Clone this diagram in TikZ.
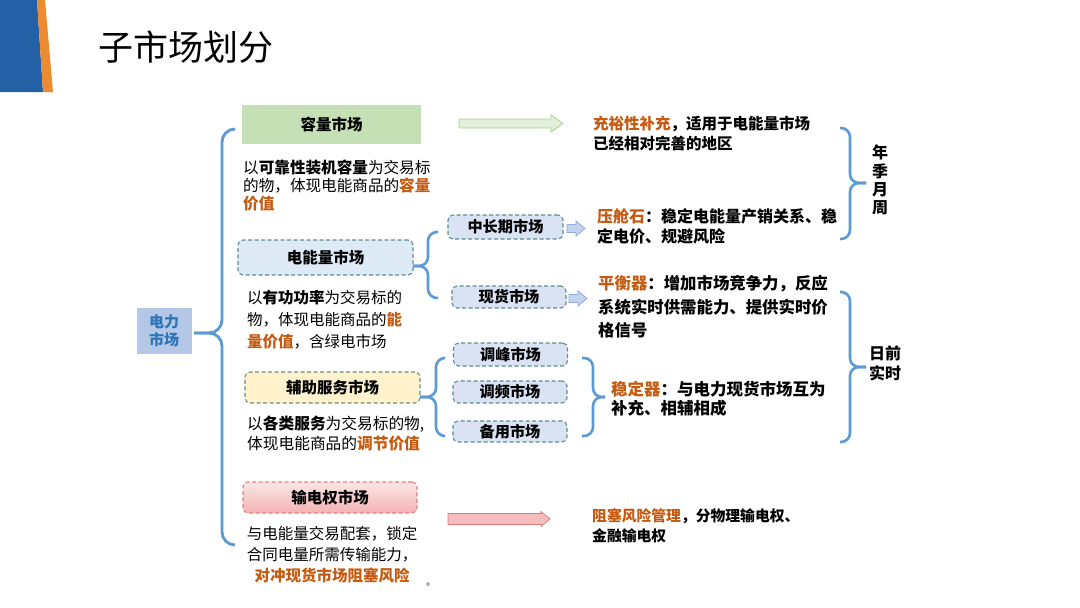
\documentclass[tikz,border=0pt]{standalone}
\usepackage{fontspec}
\setmainfont{Noto Sans CJK SC}
\usetikzlibrary{positioning}
\usepackage{xcolor}

\definecolor{deckblue}{HTML}{2360A5}
\definecolor{deckorange}{HTML}{ED8B30}
\definecolor{brc}{HTML}{5B9BD5}
\definecolor{orng}{HTML}{C55A11}
\definecolor{capfill}{HTML}{C5E0B4}
\definecolor{enfill}{HTML}{DEEBF7}
\definecolor{ancfill}{HTML}{FFF2CC}
\definecolor{subfill}{HTML}{DAE3F3}
\definecolor{dashcol}{HTML}{5E8C8C}
\definecolor{ancdash}{HTML}{6A9080}
\definecolor{ftrdash}{HTML}{E38080}
\definecolor{ftrtop}{HTML}{FCE6E6}
\definecolor{ftrbot}{HTML}{F4B3B3}
\definecolor{mktfill}{HTML}{B4C7E7}
\definecolor{mkttext}{HTML}{2E75B6}
\definecolor{gafill}{HTML}{E2F0D9}
\definecolor{gadraw}{HTML}{A9D18E}
\definecolor{pafill}{HTML}{F5BDBD}
\definecolor{padraw}{HTML}{D97B7B}
\definecolor{safill}{HTML}{C5D3EC}
\definecolor{sadraw}{HTML}{8FAADC}

\newcommand{\hlt}[1]{\textcolor{orng}{\textbf{#1}}}

\tikzset{
    market/.style={inner sep=0, minimum width=175pt, minimum height=33pt,
        font=\bfseries\fontsize{15.5}{18}\selectfont},
    dashbox/.style={draw=dashcol, dash pattern=on 4pt off 2.5pt, line width=1.1pt,
        rounded corners=5pt},
    submarket/.style={dashbox, fill=subfill, inner sep=0, minimum width=114pt,
        minimum height=22pt, font=\bfseries\fontsize{15.2}{18}\selectfont},
    desc/.style={inner sep=0, anchor=north west, align=left},
    note/.style={inner sep=0, anchor=north west, align=left},
    curly/.style={draw=brc, line width=2.6pt, rounded corners=9pt},
    smallarrow/.style={draw=sadraw, fill=safill, line width=0.8pt}
}

\begin{document}
\begin{tikzpicture}[x=1pt, y=-1pt]
        \useasboundingbox (0,0) rectangle (1080,608);

        % corner band
        \fill[deckblue] (0,0) -- (37,0) -- (43,92) -- (0,92) -- cycle;
        \fill[deckorange] (37,0) -- (45,0) -- (53,92) -- (43,92) -- cycle;

        \node (title) [inner sep=0, font=\fontsize{35}{40}\selectfont] at (186,47) {子市场划分};

        \node (mkt) [
            fill=mktfill,
            text=mkttext,
            inner sep=0,
            minimum width=55pt,
            minimum height=46pt,
            align=center,
            font=\bfseries\fontsize{15}{18}\selectfont
        ] at (164,331) {电力\\市场};

        % the four markets
        \node (cap) [market, fill=capfill, minimum width=179pt, minimum height=39pt] at (331.5,124.5) {容量市场};
        \node (ene) [market, dashbox, fill=enfill, minimum height=35pt] at (325.5,257.5) {电能量市场};
        \node (anc) [market, dashbox, draw=ancdash, fill=ancfill, minimum height=31pt] at (332.5,387.5) {辅助服务市场};
        \node (ftr) [
            market,
            dashbox,
            draw=ftrdash,
            top color=ftrtop,
            bottom color=ftrbot,
            minimum width=174pt,
            minimum height=31pt
        ] at (330,497.5) {输电权市场};

        \node (capdesc) [desc, font=\fontsize{15.6}{17.8}\selectfont] at (243,160)
            {以\textbf{可靠性装机容量}为交易标\\的物，体现电能商品的\hlt{容量}\\\hlt{价值}};
        \node (enedesc) [desc, font=\fontsize{15.5}{22}\selectfont] at (247,290)
            {以\textbf{有功功率}为交易标的\\物，体现电能商品的\hlt{能}\\\hlt{量价值}，含绿电市场};
        \node (ancdesc) [desc, font=\fontsize{15.7}{20}\selectfont] at (247,416)
            {以\textbf{各类服务}为交易标的物,\\体现电能商品的\hlt{调节价值}};
        \node (ftrdesc) [desc, anchor=north, align=center, font=\fontsize{15.5}{21}\selectfont] at (332,526)
            {与电能量交易配套，锁定\\合同电量所需传输能力，\\\hlt{对冲现货市场阻塞风险}};
        \node (dot) [inner sep=0, font=\fontsize{10}{10}\selectfont] at (431,585) {。};

        % sub markets
        \node (mid) [submarket, minimum width=115pt, minimum height=24pt] at (505.5,227) {中长期市场};
        \node (spot) [submarket] at (509,297) {现货市场};
        \node (peak) [submarket, minimum height=23pt] at (510.5,354.5) {调峰市场};
        \node (freq) [submarket] at (510,392) {调频市场};
        \node (resv) [submarket, minimum height=21pt] at (510,431.5) {备用市场};

        % notes on the right
        \node (adeq) [note, font=\bfseries\fontsize{15.5}{20}\selectfont] at (593,116)
            {\hlt{充裕性补充}，适用于电能量市场\\已经相对完善的地区};
        \node (ballast) [note, font=\bfseries\fontsize{16}{20}\selectfont] at (597,208)
            {\hlt{压舱石}：稳定电能量产销关系、稳\\定电价、规避风险};
        \node (balancer) [note, font=\bfseries\fontsize{16.4}{23.5}\selectfont] at (598,275.5)
            {\hlt{平衡器}：增加市场竞争力，反应\\系统实时供需能力、提供实时价\\格信号};
        \node (stab) [note, font=\bfseries\fontsize{16.5}{19.5}\selectfont] at (611,380.5)
            {\hlt{稳定器}：与电力现货市场互为\\补充、相辅相成};
        \node (cong) [note, font=\bfseries\fontsize{14.8}{20}\selectfont] at (592,508)
            {\hlt{阻塞风险管理}，分物理输电权、\\金融输电权};

        \node (long) [inner sep=0, anchor=north, align=center, font=\bfseries\fontsize{16}{18.3}\selectfont] at (880,145) {年\\季\\月\\周};
        \node (short) [inner sep=0, anchor=north, align=center, font=\bfseries\fontsize{16}{19.5}\selectfont] at (885,346) {日前\\实时};

        % braces
        \draw[curly, line width=2.9pt, rounded corners=13pt] (235,129) -- (222,129) -- (222,333) -- (194,333);
        \draw[curly, line width=2.9pt, rounded corners=13pt] (235,545) -- (222,545) -- (222,333) -- (194,333);
        \draw[curly] (438,232) -- (428,232) -- (428,266) -- (413,266);
        \draw[curly] (438,298) -- (428,298) -- (428,266) -- (413,266);
        \draw[curly] (444,358) -- (436,358) -- (436,397) -- (420,397);
        \draw[curly] (444,436) -- (436,436) -- (436,397) -- (420,397);
        \draw[curly] (582,358) -- (593,358) -- (593,397) -- (605,397);
        \draw[curly] (582,436) -- (593,436) -- (593,397) -- (605,397);
        \draw[curly] (840,128) -- (850,128) -- (850,183) -- (866,183);
        \draw[curly] (840,239) -- (850,239) -- (850,183) -- (866,183);
        \draw[curly] (840,292) -- (850,292) -- (850,367) -- (866,367);
        \draw[curly] (840,442) -- (850,442) -- (850,367) -- (866,367);

        % block arrows
        \draw[draw=gadraw, fill=gafill, line width=0.8pt] (459,119) -- (551,119) -- (551,115) -- (563,123.5) -- (551,132) -- (551,128) -- (459,128) -- cycle;
        \draw[draw=padraw, fill=pafill, line width=0.8pt] (448,513.5) -- (541,513.5) -- (541,511.5) -- (550,519) -- (541,526.5) -- (541,524.5) -- (448,524.5) -- cycle;
        \draw[smallarrow] (567,224.5) -- (576,224.5) -- (576,221) -- (585,228.5) -- (576,236) -- (576,232.5) -- (567,232.5) -- cycle;
        \draw[smallarrow] (569,294.5) -- (578,294.5) -- (578,291) -- (587,298.5) -- (578,306) -- (578,302.5) -- (569,302.5) -- cycle;
\end{tikzpicture}
\end{document}
